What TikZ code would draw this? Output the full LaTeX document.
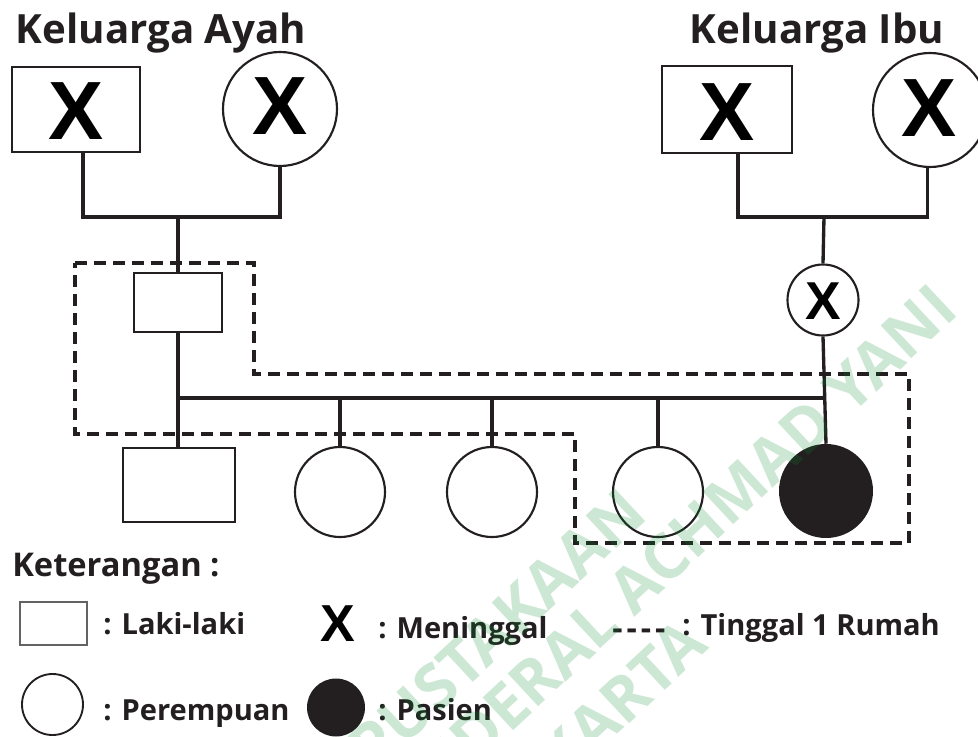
\documentclass[tikz,border=0pt]{standalone}
\usepackage{fontspec}
\setmainfont{Open Sans}
\newfontfamily\xfont{Liberation Sans}
\definecolor{ink}{RGB}{35,31,32}
\definecolor{wmgreen}{RGB}{0,140,40}
\begin{document}
\begin{tikzpicture}[x=0.75pt,y=-0.75pt,
  link/.style={line width=2.5pt, draw=ink},
  male/.style={draw=ink, line width=1.5pt, rectangle, inner sep=0pt, fill=white},
  female/.style={draw=ink, line width=1.6pt, circle, inner sep=0pt, fill=white},
  patient/.style={circle, inner sep=0pt, fill=ink},
  house/.style={draw=ink, line width=3pt, dash pattern=on 9pt off 5.25pt},
  bigx/.style={font=\xfont\bfseries\fontsize{62}{62}\selectfont, text=black},
  midx/.style={font=\xfont\bfseries\fontsize{40}{40}\selectfont, text=black},
  title/.style={font=\bfseries\fontsize{30.2}{36}\selectfont, text=ink, anchor=base, inner sep=0pt},
  legtext/.style={font=\bfseries\fontsize{21.8}{26}\selectfont, text=ink, anchor=base west, inner sep=0pt},
  wmtext/.style={font=\bfseries\fontsize{47}{50}\selectfont, text=wmgreen, rotate=43, anchor=mid east, inner sep=0pt}
]
\useasboundingbox (0,0) rectangle (978,736);
\fill[white] (0,0) rectangle (978,736);
\clip (0,0) rectangle (978,736);

% headings
\node[title] (hA) at (161,43) {Keluarga Ayah};
\node[title] (hI) at (817,43) {Keluarga Ibu};

% grandparents, father's side
\node[male, minimum width=96pt, minimum height=63.75pt] (gfA) at (76,109.5) {};
\node[bigx] (xgfA) at (76,111) {X};
\node[female, minimum size=85.5pt] (gmA) at (280,109) {};
\node[bigx] (xgmA) at (280,106) {X};

% grandparents, mother's side
\node[male, minimum width=97.5pt, minimum height=65.25pt] (gfI) at (727,109.5) {};
\node[bigx] (xgfI) at (727,112) {X};
\node[female, minimum size=85.5pt] (gmI) at (930,110) {};
\node[bigx] (xgmI) at (929,108) {X};

% parents
\node[male, minimum width=66pt, minimum height=44.25pt] (fa) at (178,302.5) {};
\node[female, minimum size=53.25pt] (mo) at (823,300) {};
\node[midx] (xmo) at (823,301) {X};

% children
\node[male, minimum width=84pt, minimum height=55.5pt] (c1) at (179,485) {};
\node[female, minimum size=67.5pt] (c2) at (340,492) {};
\node[female, minimum size=67.5pt] (c3) at (492,492) {};
\node[female, minimum size=67.5pt] (c4) at (658,492) {};
\node[patient, minimum size=70.5pt] (pt) at (826,491) {};

% junction points
\coordinate (jA) at (178,217);
\coordinate (jI) at (824,217);
\coordinate (sL) at (178,398);
\coordinate (sR) at (824,398);

% marriage and descent lines
\draw[link] ([xshift=5.25pt]gfA.south) |- (jA) -| (gmA.south);
\draw[link] (jA) -- (fa.north);
\draw[link] ([xshift=8.25pt]gfI.south) |- (jI) -| ([xshift=-2pt]gmI.south);
\draw[link] (jI) -- (mo.north);
\draw[link] (fa.south) -- (c1.north -| fa.south);
\draw[link] (sL) -- (sR);
\draw[link] (mo.south) -- (pt.north);
\draw[link] (c2.north |- sL) -- (c2.north);
\draw[link] (c3.north |- sL) -- (c3.north);
\draw[link] (c4.north |- sL) -- (c4.north);

% household boundary
\draw[house] (75,263) -- (254,263) -- (254,374) -- (909,374) -- (909,543)
  -- (575,543) -- (575,434) -- (75,434) -- cycle;

% legend
\node[legtext, font=\bfseries\fontsize{24.5}{28}\selectfont] (kt) at (12,576) {Keterangan :};
\node[draw=ink!70, line width=1pt, rectangle, minimum width=50.25pt, minimum height=32.25pt, inner sep=0pt] (lm) at (53.5,623.5) {};
\node[legtext] (tm) at (103,634) {: Laki-laki};
\node[midx, font=\xfont\bfseries\fontsize{39}{39}\selectfont] (lx) at (338,623.5) {X};
\node[legtext] (tx) at (378,638) {: Meninggal};
\node[legtext, font=\bfseries\fontsize{24}{26}\selectfont] (ld) at (612,639) {-\kern3pt-\kern3pt-\kern3pt-};
\node[legtext] (th) at (682,635) {: Tinggal 1 Rumah};
\node[draw=ink, line width=1.4pt, circle, minimum size=45.75pt, inner sep=0pt] (lf) at (52.5,704.5) {};
\node[legtext] (tf) at (103,720) {: Perempuan};
\node[patient, minimum size=43.5pt] (lp) at (336,707.5) {};
\node[legtext] (tp) at (378,720) {: Pasien};

% library watermark
\begin{scope}[opacity=0.2]
\node[wmtext] (w1) at (647,515) {PERPUSTAKAAN};
\node[wmtext] (w2) at (958,311) {UNIVERSITAS JENDERAL ACHMAD YANI};
\node[wmtext] (w3) at (708,645) {YOGYAKARTA};
\end{scope}
\end{tikzpicture}
\end{document}
